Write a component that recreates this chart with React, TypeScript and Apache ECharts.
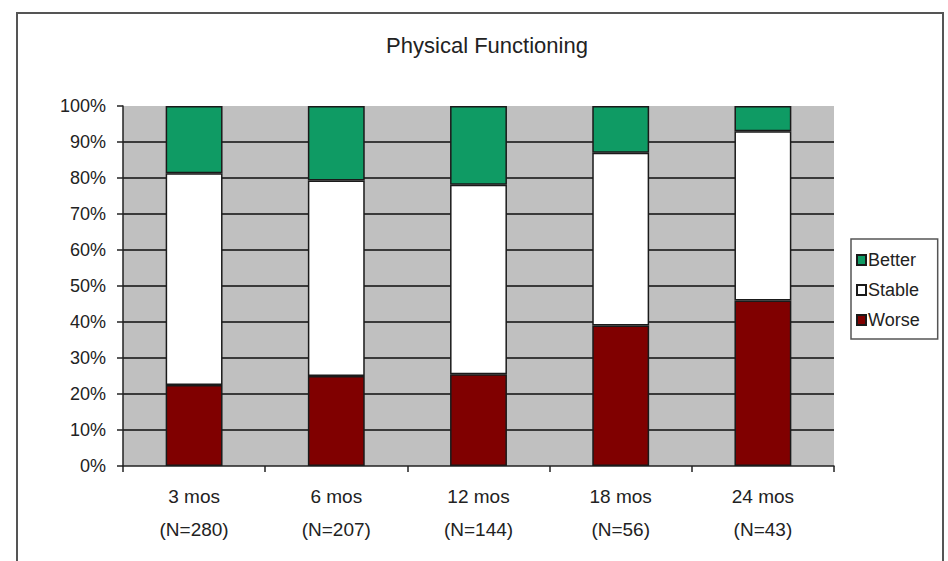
import React, { useEffect, useRef } from "react";
import * as echarts from "echarts";

// Follow-up intervals and number of patients assessed at each
const periods = ["3 mos", "6 mos", "12 mos", "18 mos", "24 mos"];
const patientCounts = [280, 207, 144, 56, 43];

// Share of patients (%) per change category
const worse = [22.5, 25, 25.5, 39, 46];
const stable = [58.8, 54.3, 52.6, 48, 47];
const better = [18.7, 20.7, 21.9, 13, 7];

const yTicks = [0, 10, 20, 30, 40, 50, 60, 70, 80, 90, 100];

const FONT = "'Liberation Sans', Arial, sans-serif";

export default function App() {
  const ref = useRef<HTMLDivElement>(null);

  useEffect(() => {
    if (!ref.current) return;
    const chart = echarts.init(ref.current, null, { renderer: "svg" });

    const categories = periods.map((p, i) => `${p}\n(N=${patientCounts[i]})`);
    // inner grid lines only: none on the 0% and 100% edges
    const splitColors = yTicks.map((_, i) =>
      i === 0 || i === yTicks.length - 1 ? "rgba(0,0,0,0)" : "#3a3a3a"
    );

    const barStyle = (color: string) => ({
      color,
      borderColor: "#1a1a1a",
      borderWidth: 1.5,
    });

    chart.setOption({
      animation: false,
      backgroundColor: "#ffffff",
      textStyle: { fontFamily: FONT, color: "#222" },
      title: {
        text: "Physical Functioning",
        left: 482,
        top: 29,
        textAlign: "center",
        textStyle: {
          fontFamily: FONT,
          fontSize: 22,
          fontWeight: "normal",
          color: "#222",
        },
      },
      graphic: [
        {
          type: "rect",
          shape: { x: 17, y: 13, width: 926, height: 620 },
          style: { fill: "none", stroke: "#555", lineWidth: 2 },
          silent: true,
        },
      ],
      legend: {
        orient: "vertical",
        left: 851,
        top: 239,
        data: ["Better", "Stable", "Worse"],
        icon: "rect",
        itemWidth: 9,
        itemHeight: 10,
        itemGap: 12,
        padding: [12, 18, 10, 5],
        borderColor: "#555",
        borderWidth: 1.5,
        textStyle: { fontFamily: FONT, fontSize: 18, color: "#222", padding: [0, 0, 0, -3] },
      },
      grid: {
        left: 123,
        right: 114,
        top: 106,
        bottom: 95,
        show: true,
        backgroundColor: "#c0c0c0",
        borderWidth: 0,
      },
      xAxis: {
        type: "category",
        data: categories,
        boundaryGap: true,
        axisLine: { show: true, lineStyle: { color: "#222", width: 1.5 } },
        axisTick: { show: true, length: 6, lineStyle: { color: "#222", width: 1.5 } },
        axisLabel: {
          fontFamily: FONT,
          fontSize: 19,
          lineHeight: 33,
          color: "#222",
          margin: 14,
          align: "center",
        },
      },
      yAxis: {
        type: "value",
        min: 0,
        max: 100,
        interval: 10,
        axisLine: { show: true, lineStyle: { color: "#222", width: 1.5 } },
        axisTick: { show: true, length: 6, lineStyle: { color: "#222", width: 1.5 } },
        axisLabel: {
          fontFamily: FONT,
          fontSize: 18,
          color: "#222",
          margin: 17,
          formatter: "{value}%",
        },
        splitLine: { show: true, lineStyle: { color: splitColors, width: 2 } },
      },
      series: [
        {
          name: "Worse",
          type: "bar",
          stack: "total",
          data: worse,
          barWidth: "40%",
          itemStyle: barStyle("#800000"),
        },
        {
          name: "Stable",
          type: "bar",
          stack: "total",
          data: stable,
          barWidth: "40%",
          itemStyle: barStyle("#ffffff"),
        },
        {
          name: "Better",
          type: "bar",
          stack: "total",
          data: better,
          barWidth: "40%",
          itemStyle: barStyle("#0f9b64"),
        },
      ],
    });

    return () => chart.dispose();
  }, []);

  return (
    <div
      ref={ref}
      style={{ position: "fixed", left: 0, top: 0, width: 948, height: 561 }}
    />
  );
}
